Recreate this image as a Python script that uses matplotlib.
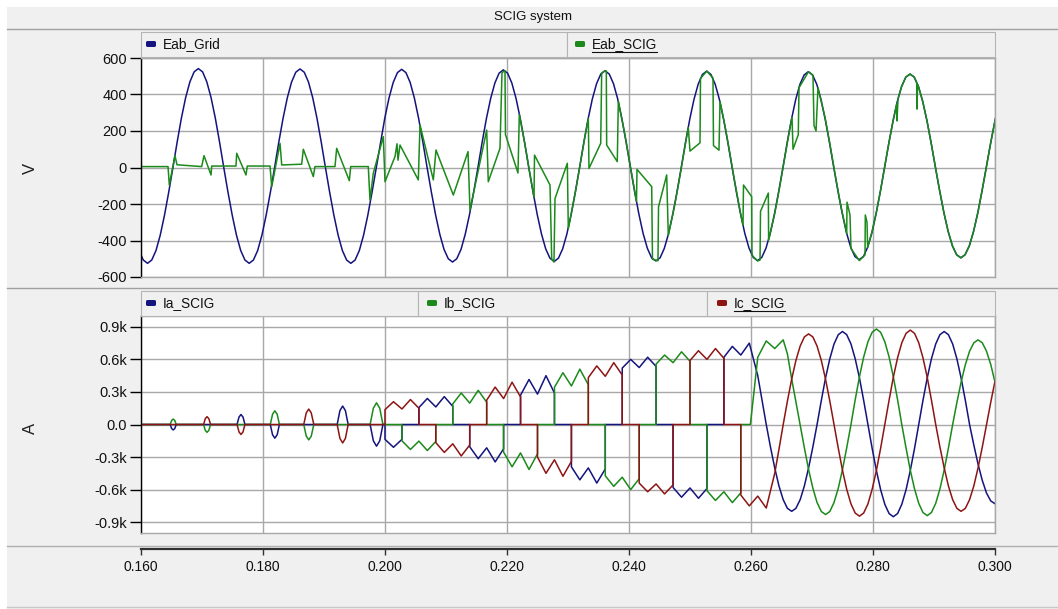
import numpy as np
import matplotlib
matplotlib.use("Agg")
import matplotlib.pyplot as plt
from matplotlib.patches import Rectangle, FancyBboxPatch
from matplotlib.lines import Line2D

# ---------------------------------------------------------------- data
TITLE = "SCIG system"
TOP_SERIES = ["Eab_Grid", "Eab_SCIG"]
BOT_SERIES = ["Ia_SCIG", "Ib_SCIG", "Ic_SCIG"]
X_TICKS = [0.160, 0.180, 0.200, 0.220, 0.240, 0.260, 0.280, 0.300]
X_TICK_LABELS = ["0.160", "0.180", "0.200", "0.220", "0.240", "0.260", "0.280", "0.300"]
V_TICKS = [600, 400, 200, 0, -200, -400, -600]
A_TICKS = [0.9, 0.6, 0.3, 0.0, -0.3, -0.6, -0.9]
A_TICK_LABELS = ["0.9k", "0.6k", "0.3k", "0.0", "-0.3k", "-0.6k", "-0.9k"]

# Eab_Grid: samples every 1/24 cycle; first sample time and step (ms)
GRID_T0_MS = 159.68
GRID_DT_MS = 0.69444
EAB_GRID = [-455, -507, -525, -507, -455, -371, -262, -136, 0,
            140, 271, 383, 469, 524, 542, 524, 469, 383, 271, 140, 0,
            -136, -262, -371, -455, -507, -525, -507, -455, -371, -262, -136, 0,
            140, 270, 382, 468, 522, 540, 522, 468, 382, 270, 140, 0,
            -136, -262, -371, -455, -507, -525, -507, -455, -371, -262, -136, 0,
            139, 269, 380, 466, 520, 538, 520, 466, 380, 269, 139, 0,
            -134, -259, -366, -449, -500, -518, -500, -449, -366, -259, -134, 0,
            139, 268, 378, 463, 517, 535, 517, 463, 378, 268, 139, 0,
            -133, -258, -364, -446, -497, -515, -497, -446, -364, -258, -133, 0,
            137, 265, 375, 459, 512, 530, 512, 459, 375, 265, 137, 0,
            -133, -256, -362, -443, -495, -512, -495, -443, -362, -256, -133, 0,
            137, 264, 373, 457, 510, 528, 510, 457, 373, 264, 137, 0,
            -132, -255, -361, -442, -493, -510, -493, -442, -361, -255, -132, 0,
            136, 262, 371, 455, 507, 525, 507, 455, 371, 262, 136, 0,
            -131, -252, -357, -437, -488, -505, -488, -437, -357, -252, -131, 0,
            133, 256, 362, 443, 495, 512, 495, 443, 362, 256, 133, 0,
            -128, -248, -350, -429, -478, -495, -478, -429, -350, -248, -128, 0,
            130, 250, 354, 433]

# Eab_SCIG (time ms, V)
EAB_SCIG = [(160.00, 5), (164.43, 5), (164.64, -96), (165.57, 65), (165.90, 15),
            (169.95, 5), (170.33, 65), (171.48, -41), (171.59, 8), (175.57, 8),
            (175.69, 78), (177.21, -41), (177.43, 8), (181.15, 8), (181.43, -105),
            (182.79, 132), (183.07, 14), (186.34, 18), (186.61, 100), (188.25, -50),
            (188.52, 5), (191.80, 5), (192.08, 105), (194.15, -72), (194.38, 5),
            (197.26, 5), (197.54, -178), (198.08, -32), (199.72, 169), (200.00, -78),
            (201.64, 60), (201.97, 130), (202.13, 40), (202.46, 123), (205.46, -68),
            (205.74, 233), (207.92, -68), (208.36, 96), (211.20, -151), (213.61, 87),
            (213.93, -233), (216.67, 205), (216.93, -78), (218.85, 105), (219.18, 520),
            (219.67, 530), (219.75, 180), (221.80, -30), (222.02, 290), (222.95, 125),
            (223.77, -38), (224.43, -163), (224.51, 68), (227.05, -96), (227.33, -500),
            (227.70, -518), (227.87, -170), (229.89, 23), (230.05, -335), (231.15, -147),
            (231.97, 11), (232.79, 172), (233.33, 269), (233.44, -5), (235.36, 132),
            (235.52, 518), (236.08, 530), (236.28, 529), (236.34, 123), (238.08, 32),
            (238.25, 363), (239.34, 178), (240.16, 18), (240.98, -140), (241.23, -186),
            (241.31, -10), (243.72, -105), (243.85, -503), (244.75, -511), (244.84, -215),
            (246.18, -41), (246.44, -372), (247.54, -198), (248.36, -44), (249.18, 117),
            (249.72, 219), (250.00, 90), (251.64, 135), (251.72, 488), (252.75, 528),
            (253.77, 490), (253.85, 120), (254.75, 95), (254.92, 362), (255.74, 228),
            (256.56, 73), (257.38, -87), (258.20, -236), (258.69, -316), (258.77, -96),
            (260.11, -160), (260.16, -481), (261.09, -512), (261.48, -507), (261.56, -240),
            (262.84, -140), (262.89, -399), (263.93, -245), (264.75, -97), (265.57, 62),
            (266.39, 218), (266.72, 275), (266.89, 100), (267.75, 180), (267.87, 437),
            (269.43, 525), (270.16, 505), (270.33, 230), (270.66, 200), (270.98, 437),
            (272.13, 275), (272.95, 126), (273.77, -34), (274.59, -187), (275.69, -362),
            (275.74, -190), (276.23, -260), (276.39, -444), (277.76, -510), (278.69, -479),
            (278.74, -260), (279.02, -300), (279.12, -437), (279.82, -357), (280.51, -252),
            (281.21, -131), (281.90, 0), (282.59, 133), (283.29, 256), (283.89, 348),
            (283.93, 255), (284.10, 376), (284.68, 443), (285.37, 495), (286.07, 512),
            (286.76, 495), (287.16, 465), (287.21, 320), (287.30, 455), (287.46, 443),
            (288.15, 362), (288.85, 256), (289.54, 133), (290.24, 0), (290.93, -128),
            (291.63, -248), (292.32, -350), (293.02, -429), (293.71, -478), (294.41, -495),
            (295.10, -478), (295.80, -429), (296.49, -350), (297.19, -248), (297.88, -128),
            (298.58, 0), (299.27, 130), (299.97, 250), (300.66, 354), (301.36, 433)]

# Ia_SCIG (time ms, kA)
IA_SCIG = [(160.00, 0),
           (164.78, 0), (165.03, -0.038), (165.28, -0.05), (165.53, -0.038), (165.78, 0),
           (175.74, 0), (176.07, 0.069), (176.39, 0.092), (176.72, 0.069), (177.04, 0),
           (181.19, 0), (181.57, -0.095), (181.94, -0.126), (182.32, -0.095), (182.69, 0),
           (192.16, 0), (192.61, 0.128), (193.06, 0.17), (193.51, 0.128), (193.96, 0),
           (197.56, 0), (198.09, -0.15), (198.61, -0.2), (199.14, -0.15), (199.66, 0),
           (200.00, 0), (200.00, -0.137), (201.39, -0.21), (202.78, -0.137), (202.78, 0),
           (205.56, 0), (205.56, 0.156), (206.94, 0.24), (208.33, 0.162), (209.72, 0.257), (211.11, 0.167), (211.11, 0),
           (213.89, 0), (213.89, -0.205), (215.28, -0.315), (216.67, -0.215), (218.06, -0.345), (219.44, -0.224), (219.44, 0),
           (222.22, 0), (222.22, 0.27), (223.61, 0.415), (225.00, 0.28), (226.39, 0.45), (227.78, 0.29), (227.78, 0),
           (230.56, 0), (230.56, -0.39), (231.94, -0.51), (233.33, -0.40), (234.72, -0.54), (236.11, -0.41), (236.11, 0),
           (238.89, 0), (238.89, 0.52), (240.28, 0.60), (241.67, 0.525), (243.06, 0.62), (244.44, 0.535), (244.44, 0),
           (247.22, 0), (247.22, -0.58), (248.61, -0.67), (250.00, -0.585), (251.39, -0.68), (252.78, -0.59), (252.78, 0),
           (255.56, 0), (255.56, 0.62), (256.94, 0.72), (258.33, 0.64), (259.72, 0.75), (261.11, 0.45),
           (262.50, 0), (263.19, -0.207), (263.89, -0.40), (264.58, -0.566), (265.28, -0.693), (265.97, -0.773),
           (266.67, -0.80), (267.36, -0.773), (268.06, -0.693), (268.75, -0.566), (269.44, -0.40), (270.14, -0.207),
           (270.83, 0), (271.53, 0.222), (272.22, 0.429), (272.92, 0.606), (273.61, 0.742), (274.31, 0.828),
           (275.00, 0.857), (275.69, 0.828), (276.39, 0.742), (277.08, 0.606), (277.78, 0.429), (278.47, 0.222),
           (279.17, 0), (279.86, -0.220), (280.56, -0.425), (281.25, -0.601), (281.94, -0.736), (282.64, -0.821),
           (283.33, -0.85), (284.03, -0.821), (284.72, -0.736), (285.42, -0.601), (286.11, -0.425), (286.81, -0.220),
           (287.50, 0), (288.19, 0.222), (288.89, 0.429), (289.58, 0.606), (290.28, 0.742), (290.97, 0.828),
           (291.67, 0.857), (292.36, 0.828), (293.06, 0.742), (293.75, 0.606), (294.44, 0.429), (295.14, 0.222),
           (295.83, 0), (296.53, -0.189), (297.22, -0.365), (297.92, -0.516), (298.61, -0.632), (299.31, -0.705),
           (300.00, -0.73)]

# Ib_SCIG (time ms, kA)
IB_SCIG = [(160.00, 0),
           (164.78, 0), (165.03, 0.038), (165.28, 0.05), (165.53, 0.038), (165.78, 0),
           (170.26, 0), (170.54, -0.054), (170.83, -0.072), (171.12, -0.054), (171.41, 0),
           (181.19, 0), (181.57, 0.095), (181.94, 0.126), (182.32, 0.095), (182.69, 0),
           (186.68, 0), (187.09, -0.107), (187.50, -0.142), (187.91, -0.107), (188.33, 0),
           (197.56, 0), (198.09, 0.15), (198.61, 0.2), (199.14, 0.15), (199.66, 0),
           (202.78, 0), (202.78, -0.15), (204.17, -0.23), (205.56, -0.153), (206.94, -0.24), (208.33, -0.156), (208.33, 0),
           (211.11, 0), (211.11, 0.19), (212.50, 0.29), (213.89, 0.197), (215.28, 0.315), (216.67, 0.205), (216.67, 0),
           (219.44, 0), (219.44, -0.254), (220.83, -0.39), (222.22, -0.262), (223.61, -0.415), (225.00, -0.27), (225.00, 0),
           (227.78, 0), (227.78, 0.343), (229.17, 0.477), (230.56, 0.355), (231.94, 0.51), (233.33, 0.367), (233.33, 0),
           (236.11, 0), (236.11, -0.473), (237.50, -0.57), (238.89, -0.486), (240.28, -0.60), (241.67, -0.50), (241.67, 0),
           (244.44, 0), (244.44, 0.557), (245.83, 0.64), (247.22, 0.57), (248.61, 0.67), (250.00, 0.583), (250.00, 0),
           (252.78, 0), (252.78, -0.61), (254.17, -0.70), (255.56, -0.62), (256.94, -0.72), (258.33, -0.63), (258.33, 0),
           (259.90, 0), (261.11, 0.62), (262.50, 0.77), (263.89, 0.70), (265.28, 0.78), (265.97, 0.65),
           (266.67, 0.42), (267.36, 0.21), (268.06, 0),
           (268.75, -0.215), (269.44, -0.415), (270.14, -0.587), (270.83, -0.719), (271.53, -0.802), (272.22, -0.83),
           (272.92, -0.802), (273.61, -0.719), (274.31, -0.587), (275.00, -0.415), (275.69, -0.215), (276.39, 0),
           (277.08, 0.228), (277.78, 0.44), (278.47, 0.622), (279.17, 0.762), (279.86, 0.850), (280.56, 0.88),
           (281.25, 0.85), (281.94, 0.762), (282.64, 0.622), (283.33, 0.44), (284.03, 0.228), (284.72, 0),
           (285.42, -0.218), (286.11, -0.42), (286.81, -0.594), (287.50, -0.727), (288.19, -0.811), (288.89, -0.84),
           (289.58, -0.811), (290.28, -0.727), (290.97, -0.594), (291.67, -0.42), (292.36, -0.218), (293.06, 0),
           (293.75, 0.202), (294.44, 0.39), (295.14, 0.552), (295.83, 0.675), (296.53, 0.753), (297.22, 0.78),
           (297.92, 0.753), (298.61, 0.675), (299.31, 0.552), (300.00, 0.39)]

# Ic_SCIG (time ms, kA)
IC_SCIG = [(160.00, 0),
           (170.26, 0), (170.54, 0.054), (170.83, 0.072), (171.12, 0.054), (171.41, 0),
           (175.74, 0), (176.07, -0.069), (176.39, -0.092), (176.72, -0.069), (177.04, 0),
           (186.68, 0), (187.09, 0.107), (187.50, 0.142), (187.91, 0.107), (188.33, 0),
           (192.16, 0), (192.61, -0.128), (193.06, -0.17), (193.51, -0.128), (193.96, 0),
           (200.00, 0), (200.00, 0.137), (201.39, 0.21), (202.78, 0.143), (204.17, 0.23), (205.56, 0.15), (205.56, 0),
           (208.33, 0), (208.33, -0.167), (209.72, -0.257), (211.11, -0.178), (212.50, -0.29), (213.89, -0.189), (213.89, 0),
           (216.67, 0), (216.67, 0.224), (218.06, 0.345), (219.44, 0.239), (220.83, 0.39), (222.22, 0.254), (222.22, 0),
           (225.00, 0), (225.00, -0.30), (226.39, -0.45), (227.78, -0.325), (229.17, -0.477), (230.56, -0.34), (230.56, 0),
           (233.33, 0), (233.33, 0.432), (234.72, 0.54), (236.11, 0.444), (237.50, 0.57), (238.89, 0.456), (238.89, 0),
           (241.67, 0), (241.67, -0.54), (243.06, -0.62), (244.44, -0.548), (245.83, -0.64), (247.22, -0.557), (247.22, 0),
           (250.00, 0), (250.00, 0.59), (251.39, 0.68), (252.78, 0.60), (254.17, 0.70), (255.56, 0.61), (255.56, 0),
           (258.33, 0), (258.33, -0.65), (259.72, -0.75), (261.11, -0.66), (262.50, -0.77), (263.89, -0.45),
           (264.58, -0.23), (265.28, 0),
           (265.97, 0.216), (266.67, 0.418), (267.36, 0.590), (268.06, 0.723), (268.75, 0.807), (269.44, 0.835),
           (270.14, 0.807), (270.83, 0.723), (271.53, 0.590), (272.22, 0.418), (272.92, 0.216), (273.61, 0),
           (274.31, -0.219), (275.00, -0.423), (275.69, -0.597), (276.39, -0.732), (277.08, -0.816), (277.78, -0.845),
           (278.47, -0.816), (279.17, -0.732), (279.86, -0.597), (280.56, -0.423), (281.25, -0.219), (281.94, 0),
           (282.64, 0.225), (283.33, 0.435), (284.03, 0.615), (284.72, 0.753), (285.42, 0.840), (286.11, 0.87),
           (286.81, 0.840), (287.50, 0.753), (288.19, 0.615), (288.89, 0.435), (289.58, 0.225), (290.28, 0),
           (290.97, -0.207), (291.67, -0.40), (292.36, -0.566), (293.06, -0.693), (293.75, -0.773), (294.44, -0.80),
           (295.14, -0.773), (295.83, -0.693), (296.53, -0.566), (297.22, -0.40), (297.92, -0.207), (298.61, 0),
           (299.31, 0.207), (300.00, 0.40)]

# ---------------------------------------------------------------- style
BLUE = "#14147e"
GREEN = "#1b8a1b"
RED = "#8e1414"
BG = "#f0f0f0"
GRIDC = "#a8a8a8"
plt.rcParams["font.family"] = ["Liberation Sans", "DejaVu Sans"]

W, H = 1058, 609
fig = plt.figure(figsize=(W / 100, H / 100), dpi=100, facecolor="white")


def fx(x):
    return x / W


def fy(y):
    return 1 - y / H


def rect(x0, y0, x1, y1, **kw):
    fig.add_artist(Rectangle((fx(x0), fy(y1)), fx(x1) - fx(x0), fy(y0) - fy(y1),
                             transform=fig.transFigure, **kw))


def hline(y, x0, x1, **kw):
    fig.add_artist(Line2D([fx(x0), fx(x1)], [fy(y), fy(y)], transform=fig.transFigure, **kw))


# frame / bars
rect(7, 7, 1058, 609, facecolor=BG, edgecolor="none", zorder=0)
hline(29, 7, 1058, color="#a0a0a0", lw=1.0)
hline(288, 7, 1058, color="#a0a0a0", lw=1.0)
hline(546, 7, 1058, color="#b0b0b0", lw=1.0)
hline(607, 7, 1058, color="#c8c8c8", lw=1.0)

fig.text(fx(533), fy(17), TITLE, fontsize=9.5, ha="center", va="center", color="#101010")

top_boxes = [(141, 567), (567, 995)]
bot_boxes = [(141, 418), (418, 707), (707, 995)]
for x0, x1 in top_boxes:
    rect(x0, 32, x1, 57, facecolor=BG, edgecolor="#b4b4b4", lw=0.8, zorder=1)
for x0, x1 in bot_boxes:
    rect(x0, 291, x1, 316, facecolor=BG, edgecolor="#b4b4b4", lw=0.8, zorder=1)

legend_texts = []


def legend_item(x, y, color, label, underline=False):
    fig.add_artist(FancyBboxPatch((fx(x), fy(y + 3)), fx(x + 10) - fx(x), fy(y - 3) - fy(y + 3),
                                  boxstyle="round,pad=0,rounding_size=0.002",
                                  transform=fig.transFigure, facecolor=color, edgecolor="none", zorder=3))
    t = fig.text(fx(x + 17), fy(y), label, fontsize=9.8, ha="left", va="center", color="#101010", zorder=3)
    legend_texts.append((t, underline))


legend_item(146, 44, BLUE, TOP_SERIES[0])
legend_item(575, 44, GREEN, TOP_SERIES[1], underline=True)
legend_item(146, 303, BLUE, BOT_SERIES[0])
legend_item(427, 303, GREEN, BOT_SERIES[1])
legend_item(717, 303, RED, BOT_SERIES[2], underline=True)

# axes
L, R = 141, 995
ax1 = fig.add_axes([fx(L), fy(277), fx(R) - fx(L), fy(58) - fy(277)])
ax2 = fig.add_axes([fx(L), fy(533), fx(R) - fx(L), fy(316) - fy(533)])

for ax in (ax1, ax2):
    ax.set_facecolor("white")
    ax.set_xlim(X_TICKS[0], X_TICKS[-1])
    ax.set_xticks(X_TICKS)
    ax.tick_params(axis="x", length=0, labelbottom=False)
    ax.tick_params(axis="y", direction="out", length=8, width=1, color="#000000",
                   labelsize=10.5, labelcolor="#101010", pad=2)
    ax.grid(True, color=GRIDC, lw=1.0)
    ax.set_axisbelow(True)
    for s in ("top", "right", "bottom"):
        ax.spines[s].set_color("#a8a8a8")
        ax.spines[s].set_linewidth(1.0)
    ax.spines["left"].set_color("#000000")
    ax.spines["left"].set_linewidth(1.0)

ax1.set_ylim(-600, 600)
ax1.set_yticks(V_TICKS)
ax1.set_yticklabels([str(v) for v in V_TICKS])

ax2.set_ylim(-1.0, 1.0)
ax2.set_yticks(A_TICKS)
ax2.set_yticklabels(A_TICK_LABELS)

# traces
t_grid = (GRID_T0_MS + GRID_DT_MS * np.arange(len(EAB_GRID))) / 1000.0
ax1.plot(t_grid, EAB_GRID, color=BLUE, lw=1.1)
ts, vs = zip(*EAB_SCIG)
ax1.plot(np.array(ts) / 1000.0, vs, color=GREEN, lw=1.1)

for series, col in ((IA_SCIG, BLUE), (IB_SCIG, GREEN), (IC_SCIG, RED)):
    ts, vs = zip(*series)
    ax2.plot(np.array(ts) / 1000.0, vs, color=col, lw=1.1)

fig.text(fx(30), fy(168), "V", rotation=90, fontsize=12, ha="center", va="center", color="#202020")
fig.text(fx(30), fy(428), "A", rotation=90, fontsize=12, ha="center", va="center", color="#202020")

# separate time axis
ax3 = fig.add_axes([fx(L), fy(549), fx(R) - fx(L), 0.0001])
ax3.set_facecolor("none")
for s in ("top", "right", "left"):
    ax3.spines[s].set_visible(False)
ax3.spines["bottom"].set_color("#303030")
ax3.spines["bottom"].set_linewidth(1.6)
ax3.set_xlim(X_TICKS[0], X_TICKS[-1])
ax3.set_xticks(X_TICKS)
ax3.set_xticklabels(X_TICK_LABELS)
ax3.set_yticks([])
ax3.tick_params(axis="x", direction="out", length=4, width=1, color="#303030",
                labelsize=10, labelcolor="#101010", pad=4)

# underline the active legend entries
fig.canvas.draw()
rend = fig.canvas.get_renderer()
for t, ul in legend_texts:
    if ul:
        bb = t.get_window_extent(renderer=rend)
        yy = bb.y0 - 1
        fig.add_artist(Line2D([bb.x0 / W, bb.x1 / W], [yy / H, yy / H],
                              transform=fig.transFigure, color="#101010", lw=0.8))

fig.savefig("out.png", dpi=100, facecolor=fig.get_facecolor())
